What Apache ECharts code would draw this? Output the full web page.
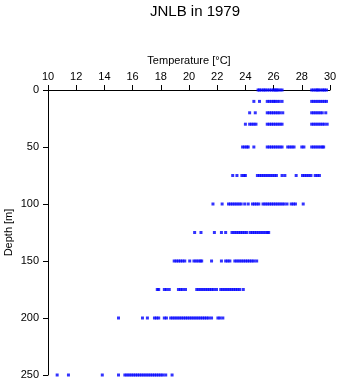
<!DOCTYPE html>
<html>
<head>
<meta charset="utf-8">
<script src="https://cdn.jsdelivr.net/npm/echarts@6/dist/echarts.min.js"></script>
<style>html,body{margin:0;padding:0;background:#fff;}#c{width:341px;height:384px;}</style>
</head>
<body>
<div id="c"></div>
<script>
var depths = [0, 10, 20, 30, 50, 75, 100, 125, 150, 175, 200, 250];
var temps0 = [24.9, 25.0, 25.15, 25.3, 25.4, 25.55, 25.7, 25.85, 26.0, 26.1, 26.2, 26.3, 26.45, 26.6, 28.7, 28.85, 29.0, 29.1, 29.2, 29.35, 29.5, 29.6, 29.75];
var temps10 = [24.6, 25.0, 25.55, 25.7, 25.85, 26.0, 26.1, 26.25, 26.4, 26.6, 28.7, 28.85, 29.0, 29.15, 29.3, 29.45, 29.6, 29.75];
var temps20 = [24.3, 24.7, 25.55, 25.7, 25.85, 26.0, 26.15, 26.3, 26.45, 26.65, 28.7, 28.85, 29.0, 29.15, 29.3, 29.45, 29.7];
var temps30 = [24.0, 24.3, 24.45, 24.6, 24.75, 25.55, 25.7, 25.85, 26.0, 26.15, 26.3, 26.45, 26.6, 28.7, 28.85, 29.0, 29.15, 29.3, 29.45, 29.6, 29.8];
var temps50 = [23.8, 23.95, 24.1, 24.2, 24.6, 25.55, 25.7, 25.85, 26.0, 26.15, 26.3, 26.45, 26.6, 27.0, 27.15, 27.3, 27.45, 28.0, 28.15, 28.7, 28.85, 29.0, 29.15, 29.3, 29.45, 29.55];
var temps75 = [23.1, 23.4, 23.75, 23.9, 24.0, 24.85, 25.0, 25.15, 25.3, 25.45, 25.6, 25.75, 25.9, 26.05, 26.2, 26.6, 26.8, 27.6, 28.05, 28.2, 28.35, 28.5, 28.65, 28.95, 29.1, 29.25];
var temps100 = [21.7, 22.35, 22.8, 22.95, 23.1, 23.25, 23.4, 23.55, 23.7, 23.95, 24.2, 24.5, 24.65, 24.8, 24.95, 25.25, 25.4, 25.55, 25.7, 25.85, 26.0, 26.15, 26.3, 26.45, 26.6, 26.75, 26.95, 27.25, 27.4, 27.55, 28.1];
var temps125 = [20.4, 20.85, 21.8, 22.3, 22.6, 23.05, 23.2, 23.35, 23.5, 23.65, 23.8, 23.95, 24.1, 24.35, 24.5, 24.65, 24.8, 24.95, 25.1, 25.25, 25.4, 25.55, 25.65];
var temps150 = [18.95, 19.1, 19.25, 19.4, 19.55, 19.7, 20.05, 20.35, 20.5, 20.65, 20.8, 20.9, 21.6, 22.3, 22.6, 22.75, 22.9, 23.25, 23.4, 23.55, 23.7, 23.85, 24.0, 24.15, 24.3, 24.45, 24.6, 24.8];
var temps175 = [17.75, 17.85, 18.25, 18.4, 18.6, 19.25, 19.4, 19.55, 19.75, 20.55, 20.7, 20.85, 21.0, 21.15, 21.3, 21.45, 21.6, 21.75, 21.95, 22.25, 22.4, 22.55, 22.7, 22.85, 23.0, 23.15, 23.3, 23.45, 23.6, 23.85];
var temps200 = [15.0, 16.7, 17.05, 17.55, 17.7, 17.85, 18.25, 18.4, 18.7, 18.85, 19.0, 19.15, 19.3, 19.45, 19.6, 19.75, 19.9, 20.05, 20.2, 20.35, 20.5, 20.65, 20.8, 20.95, 21.1, 21.25, 21.4, 21.6, 22.05, 22.2, 22.4];
var temps250 = [10.65, 11.45, 13.85, 15.0, 15.45, 15.6, 15.75, 15.9, 16.05, 16.2, 16.35, 16.5, 16.65, 16.8, 16.95, 17.1, 17.25, 17.4, 17.55, 17.7, 17.85, 18.0, 18.15, 18.35, 18.8];
var tempRows = [temps0, temps10, temps20, temps30, temps50, temps75, temps100, temps125, temps150, temps175, temps200, temps250];
var xTicks = [10, 12, 14, 16, 18, 20, 22, 24, 26, 28, 30];
var yTicks = [0, 50, 100, 150, 200, 250];

var pts = [];
depths.forEach(function (d, i) {
  tempRows[i].forEach(function (t) { pts.push([t, d]); });
});

var font = 'Liberation Sans, Arial, sans-serif';
var chart = echarts.init(document.getElementById('c'), null, {renderer: 'canvas'});
chart.setOption({
  animation: false,
  backgroundColor: '#fff',
  title: {
    text: 'JNLB in 1979', left: 190, top: -1, textAlign: 'center',
    textStyle: {fontFamily: font, fontSize: 15, fontWeight: 'normal', color: '#000'}
  },
  grid: {left: 48, right: 11, top: 90, bottom: 9, containLabel: false, outerBoundsMode: 'none'},
  xAxis: {
    type: 'value', position: 'top', min: xTicks[0], max: xTicks[xTicks.length - 1], interval: 2,
    name: 'Temperature [°C]', nameLocation: 'middle', nameGap: 24, nameMoveOverlap: false,
    nameTextStyle: {fontFamily: font, fontSize: 11, color: '#000'},
    axisLine: {show: true, lineStyle: {color: '#000', width: 1}},
    axisTick: {show: true, inside: false, length: 5, lineStyle: {color: '#000'}},
    axisLabel: {fontFamily: font, fontSize: 11, color: '#000', margin: 8},
    splitLine: {show: false}
  },
  yAxis: {
    type: 'value', inverse: true, min: yTicks[0], max: yTicks[yTicks.length - 1], interval: 50,
    name: 'Depth [m]', nameLocation: 'middle', nameGap: 34, nameRotate: 90, nameMoveOverlap: false,
    nameTextStyle: {fontFamily: font, fontSize: 11, color: '#000'},
    axisLine: {show: true, lineStyle: {color: '#000', width: 1}},
    axisTick: {show: true, inside: false, length: 5, lineStyle: {color: '#000'}},
    axisLabel: {fontFamily: font, fontSize: 11, color: '#000', margin: 9},
    splitLine: {show: false}
  },
  series: [{
    type: 'scatter', data: pts, symbol: 'rect', symbolSize: 3,
    itemStyle: {color: '#0000ff'}
  }]
});
</script>
</body>
</html>
